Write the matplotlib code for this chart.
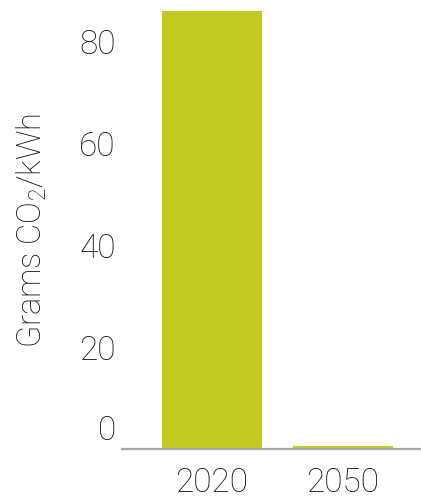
import matplotlib
matplotlib.use('Agg')
import matplotlib.pyplot as plt
from matplotlib.transforms import ScaledTranslation

years = ['2020', '2050']
grams = [86, 0.5]
yticks = [0, 20, 40, 60, 80]

plt.rcParams['font.family'] = ['Roboto', 'DejaVu Sans']
plt.rcParams['font.weight'] = 'light'
plt.rcParams['axes.labelweight'] = 'light'
plt.rcParams['mathtext.default'] = 'regular'
textcol = '#141414'

fig = plt.figure(figsize=(4.21, 5), dpi=100)
ax = fig.add_axes([122/421, 51/500, 299/421, 438/500])

ax.bar(range(len(years)), grams, width=0.77, color='#c3cb21')
ax.set_xlim(-0.687, 1.595)
ax.set_ylim(0, 86)

for s in ['top', 'right', 'left']:
	ax.spines[s].set_visible(False)
ax.spines['bottom'].set_color('#a8a8a8')
ax.spines['bottom'].set_linewidth(1.6)

ax.set_xticks(range(len(years)))
ax.set_xticklabels(years)
ax.set_yticks(yticks)
ax.set_yticklabels([str(t) for t in yticks])
ax.tick_params(axis='both', length=0, labelsize=24, labelcolor=textcol)
ax.tick_params(axis='x', pad=13)
ax.tick_params(axis='y', pad=4.5)

# the 0 label sits above the baseline
lab0 = ax.get_yticklabels()[0]
lab0.set_transform(lab0.get_transform() + ScaledTranslation(0, 22/100, fig.dpi_scale_trans))

ax.set_ylabel('Grams CO$_2$/kWh', fontsize=23.5, color=textcol, fontweight='light')
ax.yaxis.set_label_coords(-0.243, 0.5)

fig.savefig('out.png', dpi=100)
